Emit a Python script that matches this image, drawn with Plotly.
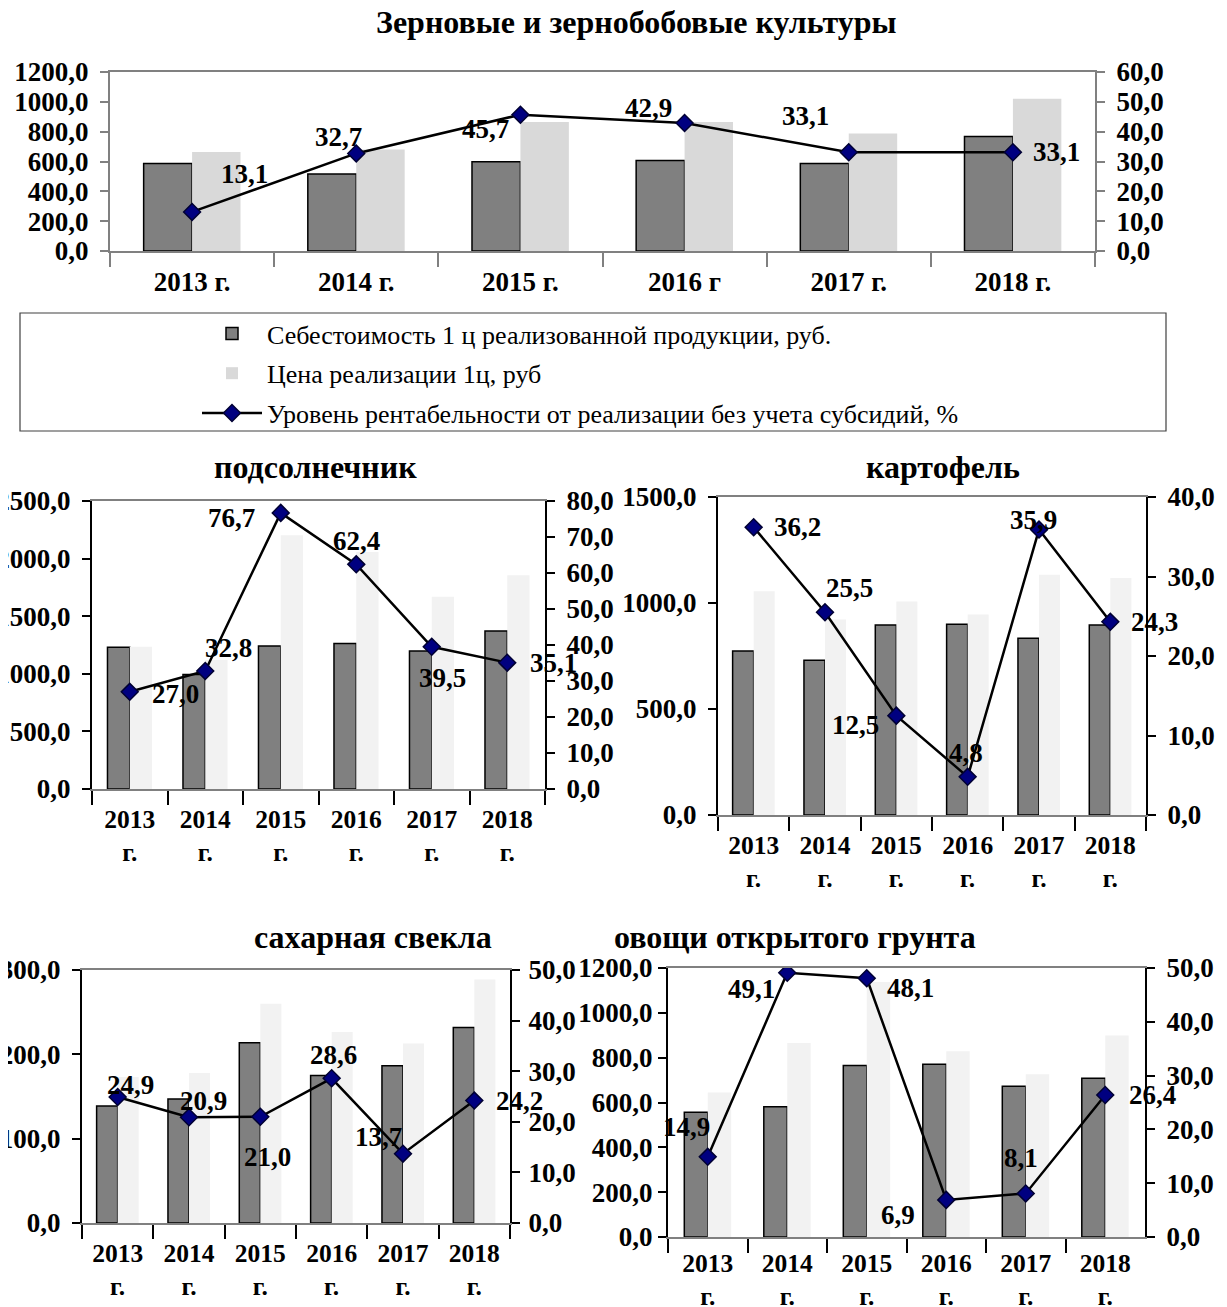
import plotly.graph_objects as go

# ---------------- data ----------------
top_categories = ["2013 г.", "2014 г.", "2015 г.", "2016 г", "2017 г.", "2018 г."]
small_categories = ["2013<br>г.", "2014<br>г.", "2015<br>г.", "2016<br>г.", "2017<br>г.", "2018<br>г."]

series_names = [
    "Себестоимость 1 ц реализованной продукции, руб.",
    "Цена реализации 1ц, руб",
    "Уровень рентабельности от реализации без учета субсидий, %",
]

grain_cost = [587, 516, 598, 607, 587, 767]
grain_price = [664, 680, 864, 864, 787, 1020]
grain_profit = [13.1, 32.7, 45.7, 42.9, 33.1, 33.1]

sun_cost = [1230, 995, 1241, 1264, 1198, 1371]
sun_price = [1235, 1120, 2203, 2058, 1669, 1856]
sun_profit = [27.0, 32.8, 76.7, 62.4, 39.5, 35.1]

pot_cost = [773, 730, 896, 900, 834, 896]
pot_price = [1055, 922, 1007, 946, 1133, 1118]
pot_profit = [36.2, 25.5, 12.5, 4.8, 35.9, 24.3]

beet_cost = [138.6, 147.0, 213.6, 175.0, 186.5, 231.7]
beet_price = [173.0, 178.0, 260.0, 226.5, 212.8, 288.6]
beet_profit = [24.9, 20.9, 21.0, 28.6, 13.7, 24.2]

veg_cost = [556, 581, 765, 771, 672, 708]
veg_price = [645, 865, 1137, 829, 726, 899]
veg_profit = [14.9, 49.1, 48.1, 6.9, 8.1, 26.4]

titles = [
    "Зерновые и зернобобовые культуры",
    "подсолнечник",
    "картофель",
    "сахарная свекла",
    "овощи открытого грунта",
]

# ---------------- layout / style ----------------
W, H = 1227, 1307
PAGE_OFFSET = 8  # default body margin of the page
FONT = "Liberation Serif, Times New Roman, serif"
TICK_SIZE = 27
LABEL_SIZE = 27
TITLE_SIZE = 32

def px_x(v):
    return (v - PAGE_OFFSET) / W

def px_y(v):
    return 1 - (v - PAGE_OFFSET) / H

panels = [
    dict(cost=grain_cost, price=grain_price, profit=grain_profit, cats=top_categories,
         x0=110, x1=1095, y0=72, y1=251, left=(1200, 200), right=(60, 10),
         light="#d9d9d9", axcolor="#808080", xfont=27, xstand=6, lstand=6, rstand=6,
         title_xy=(636, 22),
         offs=[(52, -38), (-18, -16), (-35, 14), (-36, -15), (-43, -36), (44, 0)]),
    dict(cost=sun_cost, price=sun_price, profit=sun_profit, cats=small_categories,
         x0=92, x1=545, y0=501, y1=789, left=(2500, 500), right=(80, 10),
         light="#f2f2f2", axcolor="#000000", xfont=25.5, xstand=6, lstand=6, rstand=6,
         title_xy=(315, 467),
         offs=[(46, 2), (23, -23), (-49, 5), (0, -23), (11, 31), (46, 0)]),
    dict(cost=pot_cost, price=pot_price, profit=pot_profit, cats=small_categories,
         x0=718, x1=1146, y0=497, y1=815, left=(1500, 500), right=(40, 10),
         light="#f2f2f2", axcolor="#000000", xfont=25.5, xstand=6, lstand=6, rstand=6,
         title_xy=(943, 467),
         offs=[(44, 0), (24, -24), (-41, 9), (-2, -24), (-6, -10), (44, 0)]),
    dict(cost=beet_cost, price=beet_price, profit=beet_profit, cats=small_categories,
         x0=82, x1=510, y0=970, y1=1223, left=(300, 100), right=(50, 10),
         light="#f2f2f2", axcolor="#000000", xfont=25.5, xstand=6, lstand=6, rstand=3,
         title_xy=(373, 937),
         offs=[(13, -12), (14, -16), (7, 40), (2, -23), (-25, -17), (45, 0)]),
    dict(cost=veg_cost, price=veg_price, profit=veg_profit, cats=small_categories,
         x0=668, x1=1145, y0=968, y1=1237, left=(1200, 200), right=(50, 10),
         light="#f2f2f2", axcolor="#000000", xfont=25.5, xstand=2, lstand=0, rstand=6,
         title_xy=(795, 937),
         offs=[(-21, -30), (-36, 16), (44, 10), (-48, 15), (-5, -35), (47, 0)]),
]

fig = go.Figure()
layout = dict(
    width=W, height=H,
    margin=dict(l=0, r=0, t=0, b=0, autoexpand=False),
    paper_bgcolor="white", plot_bgcolor="white",
    separators=", ",
    barmode="group", bargap=0.41, bargroupgap=0,
    font=dict(family=FONT, size=TICK_SIZE, color="black"),
    showlegend=True,
    legend=dict(x=px_x(197), y=px_y(310), xanchor="left", yanchor="top",
                font=dict(family=FONT, size=26, color="black"),
                bgcolor="rgba(0,0,0,0)", tracegroupgap=3, itemwidth=60,
                traceorder="grouped"),
)
annotations = []
shapes = []

for i, p in enumerate(panels):
    k = i + 1
    xa = "x" if k == 1 else f"x{k}"
    yl_n, yr_n = 2 * k - 1, 2 * k
    yl = "y" if yl_n == 1 else f"y{yl_n}"
    yr = f"y{yr_n}"
    dom_x = [px_x(p["x0"]), px_x(p["x1"])]
    dom_y = [px_y(p["y1"]), px_y(p["y0"])]
    show = (k == 1)
    cats = p["cats"]

    fig.add_trace(go.Bar(x=cats, y=p["cost"], xaxis=xa, yaxis=yl, name=series_names[0],
                         marker=dict(color="#808080", line=dict(color="black", width=1.5)),
                         showlegend=show, legendgroup="g1"))
    fig.add_trace(go.Bar(x=cats, y=p["price"], xaxis=xa, yaxis=yl, name=series_names[1],
                         marker=dict(color=p["light"], line=dict(width=0)),
                         showlegend=show, legendgroup="g2"))
    fig.add_trace(go.Scatter(x=cats, y=p["profit"], xaxis=xa, yaxis=yr, name=series_names[2],
                             mode="lines+markers",
                             line=dict(color="black", width=2.5),
                             marker=dict(symbol="diamond", size=13, color="#000080",
                                         line=dict(color="#000033", width=1.5)),
                             showlegend=show, legendgroup="g3"))

    xkey = "xaxis" if k == 1 else f"xaxis{k}"
    ylkey = "yaxis" if yl_n == 1 else f"yaxis{yl_n}"
    yrkey = f"yaxis{yr_n}"
    layout[xkey] = dict(domain=dom_x, anchor=yl, type="category",
                        categoryorder="array", categoryarray=cats,
                        range=[-0.5, len(cats) - 0.5], autorange=False,
                        tickson="boundaries", ticks="outside", ticklen=14,
                        tickcolor=p["axcolor"], tickwidth=1.5, tickangle=0,
                        ticklabelstandoff=p["xstand"],
                        showline=True, linecolor="#808080", linewidth=2, mirror=True,
                        showgrid=False, zeroline=False, automargin=False,
                        tickfont=dict(family=FONT, size=p["xfont"], weight="bold"))
    layout[ylkey] = dict(domain=dom_y, anchor=xa, range=[0, p["left"][0]], dtick=p["left"][1],
                         autorange=False,
                         tickformat=".1f", ticks="outside", ticklen=8, tickwidth=1.5,
                         tickcolor=p["axcolor"], automargin=False, ticklabelstandoff=p["lstand"],
                         showline=True, linecolor=p["axcolor"], linewidth=2,
                         showgrid=False, zeroline=False,
                         tickfont=dict(family=FONT, size=TICK_SIZE, weight="bold"))
    layout[yrkey] = dict(domain=dom_y, anchor=xa, overlaying=yl, side="right",
                         range=[0, p["right"][0]], dtick=p["right"][1], autorange=False,
                         tickformat=".1f", ticks="outside", ticklen=8, tickwidth=1.5,
                         tickcolor=p["axcolor"], automargin=False, ticklabelstandoff=p["rstand"],
                         showline=True, linecolor=p["axcolor"], linewidth=2,
                         showgrid=False, zeroline=False,
                         tickfont=dict(family=FONT, size=TICK_SIZE, weight="bold"))

    for j, (yv, (dx, dy)) in enumerate(zip(p["profit"], p["offs"])):
        annotations.append(dict(x=j, y=yv, xref=xa, yref=yr,
                                text=f"{yv:.1f}".replace(".", ","), showarrow=False,
                                xshift=dx, yshift=-dy,
                                font=dict(family=FONT, size=LABEL_SIZE, weight="bold", color="black")))

    tx, ty = p["title_xy"]
    annotations.append(dict(x=px_x(tx), y=px_y(ty), xref="paper", yref="paper",
                            text=titles[i], showarrow=False, xanchor="center", yanchor="middle",
                            font=dict(family=FONT, size=TITLE_SIZE, weight="bold", color="black")))

# legend frame
shapes.append(dict(type="rect", xref="paper", yref="paper",
                   x0=px_x(20), x1=px_x(1166), y0=px_y(431), y1=px_y(313),
                   line=dict(color="#404040", width=1.2), fillcolor="rgba(0,0,0,0)"))

layout["annotations"] = annotations
layout["shapes"] = shapes
fig.update_layout(**layout)
fig.write_html("out.html")
